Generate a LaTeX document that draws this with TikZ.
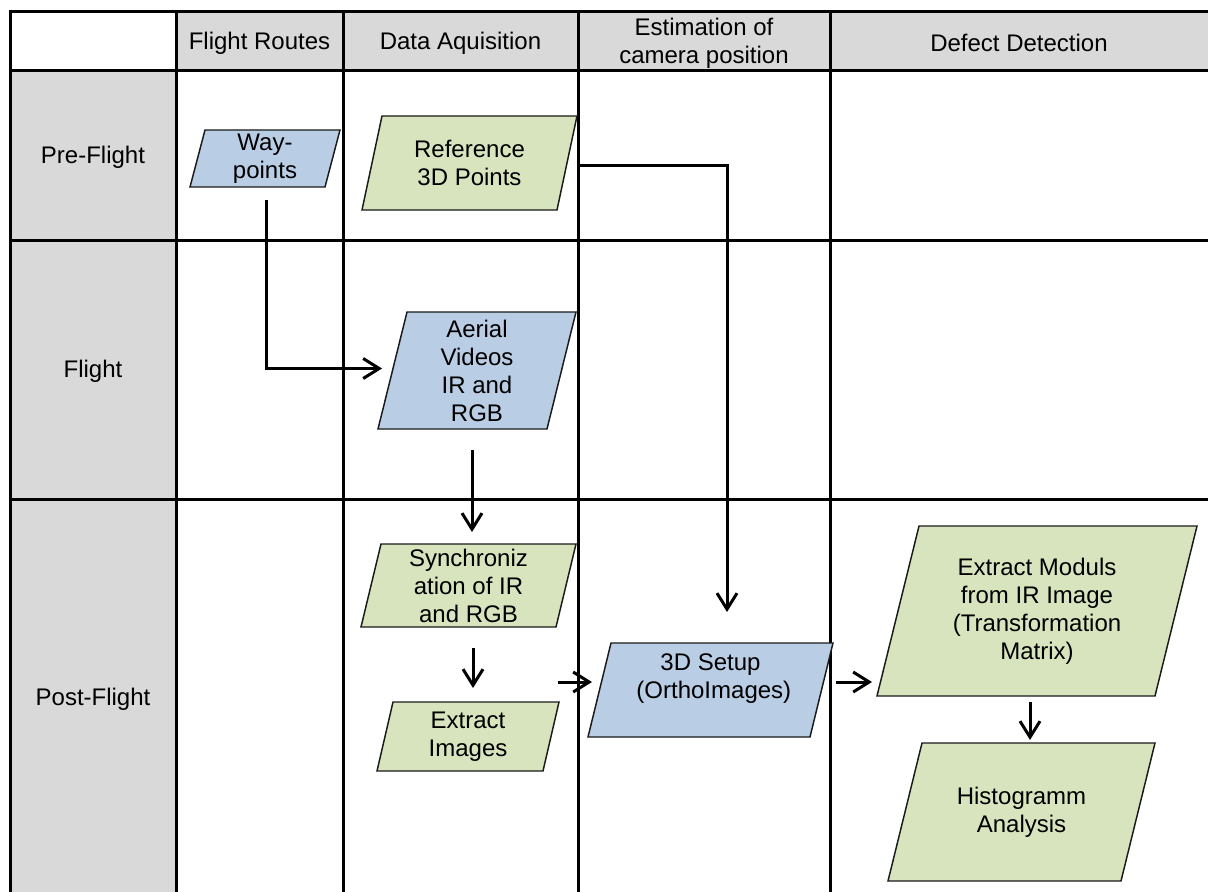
\documentclass[tikz,border=0pt]{standalone}
\usepackage{fontspec}
\setmainfont{Liberation Sans}
\usetikzlibrary{arrows.meta,calc}
\pgfdeclarelayer{grid}
\pgfdeclarelayer{shapes}
\pgfsetlayers{grid,shapes,main}
\def\pxu{0.75pt}
\definecolor{cellgray}{HTML}{D9D9D9}
\definecolor{inblue}{HTML}{B9CDE5}
\definecolor{ingreen}{HTML}{D7E4BD}
\definecolor{edgeink}{HTML}{1A1A1A}
\tikzset{
  rule/.style={line width=2.25pt, line cap=rect},
  txt/.style={font=\fontsize{18}{21}\selectfont, align=center, inner sep=0pt},
  iobox/.style 2 args={txt, outer sep=0pt, minimum width=#1*\pxu, minimum height=#2*\pxu},
  edge/.style={draw=edgeink, line width=1.1pt, line join=miter},
  flow/.style={line width=2.25pt, -{Straight Barb[length=12pt,width=15pt]}},
}
% slanted input/output box drawn behind the text of a node
\newcommand\slantfill[3]{%
  \begin{pgfonlayer}{shapes}
    \draw[edge, fill=#3] ($(#1.north west)+(#2,0)$) -- (#1.north east)
      -- ($(#1.south east)-(#2,0)$) -- (#1.south west) -- cycle;
  \end{pgfonlayer}}
\begin{document}
\begin{tikzpicture}[x=0.75pt, y=-0.75pt]
\useasboundingbox (0,0) rectangle (1208,892);

% ---- swimlane table ----
\begin{pgfonlayer}{grid}
  \fill[cellgray] (176,12) rectangle (1208,71);
  \fill[cellgray] (10,71) rectangle (176,892);
  \foreach \y in {12,71,240,499} \draw[rule] (10,\y) -- (1208,\y);
  \foreach \x in {10,176,343,578,830} \draw[rule] (\x,12) -- (\x,892);
\end{pgfonlayer}

\node[txt] (hroutes) at (259.5,43) {Flight Routes};
\node[txt] (hdata)   at (460.5,43) {Data Aquisition};
\node[txt] (hcam)    at (704,43)   {Estimation of\\camera position};
\node[txt] (hdefect) at (1019,43)  {Defect Detection};
\node[txt] (rpre)    at (93,157)   {Pre-Flight};
\node[txt] (rflight) at (93,371)   {Flight};
\node[txt] (rpost)   at (93,699)   {Post-Flight};

% ---- process boxes ----
\node[iobox={150}{57}]  (wp)      at (265,158.5)  {Way-\\points};
\node[iobox={215}{94}]  (ref)     at (469.5,163)  {Reference\\3D Points};
\node[iobox={198}{117}] (aerial)  at (477,370.5)  {Aerial\\Videos\\IR and\\RGB};
\node[iobox={215}{83}]  (sync)    at (468.5,585.5){Synchroniz\\ation of IR\\and RGB};
\node[iobox={182}{69}]  (extract) at (468,736.5)  {Extract\\Images};
\node[iobox={245}{94}]  (setup)   at (710.5,690)  {3D Setup\\\ (OrthoImages)\\\mbox{}};
\node[iobox={320}{170}] (moduls)  at (1037,611)   {Extract Moduls\\from IR Image\\(Transformation\\Matrix)};
\node[iobox={267}{138}] (histo)   at (1021.5,812) {Histogramm\\Analysis};

\slantfill{wp}{15}{inblue}
\slantfill{ref}{20}{ingreen}
\slantfill{aerial}{29}{inblue}
\slantfill{sync}{20}{ingreen}
\slantfill{extract}{16}{ingreen}
\slantfill{setup}{23}{inblue}
\slantfill{moduls}{42}{ingreen}
\slantfill{histo}{34}{ingreen}

% ---- connectors ----
\draw[flow] ($(wp.south)+(1,13)$) |- ($(aerial.west)+(4,-2)$);
\draw[flow] ($(aerial.south)+(-5,21)$) -- ($(sync.north)+(3.5,-12)$);
\draw[flow] ($(sync.south)+(4.5,21)$) -- ($(extract.north)+(5,-14)$);
\draw[flow] ($(extract.north east)+(-1,-20)$) -- ($(setup.west)+(4,-8)$);
\draw[flow] ($(ref.east)+(1,3)$) -| ($(setup.north)+(16.5,-31)$);
\draw[flow] ($(setup.east)+(3,-8)$) -- ($(moduls.west |- setup.east)+(-5,-8)$);
\draw[flow] ($(moduls.south)+(-7,6)$) -- ($(histo.north)+(8.5,-3)$);
\end{tikzpicture}
\end{document}
